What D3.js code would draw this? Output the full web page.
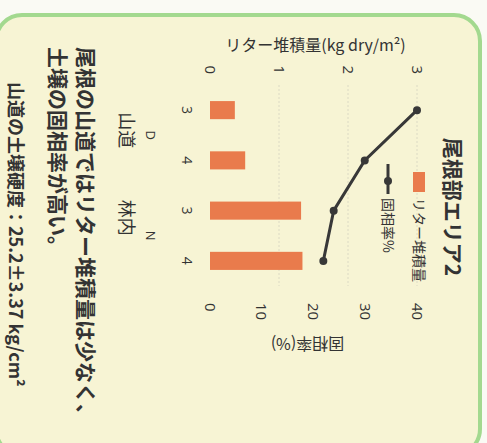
<!DOCTYPE html>
<html><head><meta charset="utf-8">
<script src="https://cdn.jsdelivr.net/npm/d3@7/dist/d3.min.js"></script>
<style>
html,body{margin:0;padding:0;background:#fafaf4;}
svg{display:block;}
text{font-family:"Noto Sans CJK JP","Noto Sans",sans-serif;fill:#333;}
</style></head>
<body>
<script>
// ---- data ----
const chartTitle = "尾根部エリア2";
const groups = ["山道", "林内"];
const groupCodes = ["D", "N"];
const categories = ["D-3", "D-4", "N-3", "N-4"];
const categoryLabels = ["3", "4", "3", "4"];
const litter = [0.36, 0.51, 1.32, 1.34];          // kg dry/m²
const solidRatio = [40.0, 29.9, 23.9, 21.9];       // %
const litterTicks = [0, 1, 2, 3];
const ratioTicks = [0, 10, 20, 30, 40];
const litterTitle = "リター堆積量(kg dry/m²)";
const ratioTitle = "固相率(%)";
const legendLabels = ["リター堆積量", "固相率%"];
const notes = ["尾根の山道ではリター堆積量は少なく、", "土壌の固相率が高い。"];
const hardness = "山道の土壌硬度：25.2±3.37 kg/cm²";

const W = 487, H = 443;
const svg = d3.select("body").append("svg").attr("width", W).attr("height", H);
svg.append("rect").attr("width", W).attr("height", H).attr("fill", "#fafaf4");

// the whole poster is photographed rotated 90° clockwise
const g = svg.append("g").attr("transform", `translate(${W},0) rotate(90)`);
// inside g: original width = 443 (H), original height = 487 (W)

// card
g.append("rect").attr("x", 15).attr("y", 7).attr("width", 440).attr("height", 484)
  .attr("rx", 26).attr("fill", "#f7f4d4").attr("stroke", "#a3d98f").attr("stroke-width", 4);

// scales
const x = d3.scaleBand().domain(categories).range([85, 286]).paddingInner(0.64).paddingOuter(0.32);
const yL = d3.scaleLinear().domain([0, 3]).range([277, 70]);
const yR = d3.scaleLinear().domain([0, 40]).range([277, 70]);

// gridlines
g.append("g").selectAll("line").data(litterTicks.slice(1)).join("line")
  .attr("x1", 85).attr("x2", 286).attr("y1", d => yL(d)).attr("y2", d => yL(d))
  .attr("stroke", "#dcdac4").attr("stroke-width", 1).attr("stroke-dasharray", "2,2");

// left axis (litter)
const axL = g.append("g").attr("transform", "translate(80,0)")
  .call(d3.axisLeft(yL).tickValues(litterTicks).tickFormat(d3.format("d")).tickSize(0).tickPadding(6));
axL.select(".domain").remove();
axL.selectAll("text").attr("font-size", 15).attr("fill", "#333")
  .style("font-family", "'Open Sans','Noto Sans',sans-serif");

// right axis (solid ratio)
const axR = g.append("g").attr("transform", "translate(297,0)")
  .call(d3.axisRight(yR).tickValues(ratioTicks).tickFormat(d3.format("d")).tickSize(0).tickPadding(6));
axR.select(".domain").remove();
axR.selectAll("text").attr("font-size", 15).attr("fill", "#333")
  .style("font-family", "'Open Sans','Noto Sans',sans-serif");

// axis titles
g.append("text").attr("transform", `translate(51,${(yL(0) + yL(3)) / 2 - 2}) rotate(-90)`)
  .attr("text-anchor", "middle").attr("font-size", 16).text(litterTitle);
g.append("text").attr("transform", `translate(338,${(yR(0) + yR(40)) / 2 + 6}) rotate(90)`)
  .attr("text-anchor", "middle").attr("font-size", 16).text(ratioTitle);

// bars
g.append("g").selectAll("rect").data(litter).join("rect")
  .attr("x", (d, i) => x(categories[i])).attr("width", x.bandwidth())
  .attr("y", d => yL(d)).attr("height", d => yL(0) - yL(d))
  .attr("fill", "#e97b4c");

// line
const pts = solidRatio.map((v, i) => [x(categories[i]) + x.bandwidth() / 2, yR(v)]);
g.append("path").attr("d", d3.line()(pts)).attr("fill", "none")
  .attr("stroke", "#383838").attr("stroke-width", 3);
g.append("g").selectAll("circle").data(pts).join("circle")
  .attr("cx", d => d[0]).attr("cy", d => d[1]).attr("r", 4).attr("fill", "#383838");

// category labels
g.append("g").selectAll("text").data(categoryLabels).join("text")
  .attr("x", (d, i) => x(categories[i]) + x.bandwidth() / 2).attr("y", 305)
  .attr("text-anchor", "middle").attr("font-size", 14)
  .style("font-family", "'Open Sans','Noto Sans',sans-serif").text(d => d);
const groupCenter = gi => (x(categories[gi * 2]) + x(categories[gi * 2 + 1]) + x.bandwidth()) / 2;
g.append("g").selectAll("text").data(groupCodes).join("text")
  .attr("x", (d, i) => groupCenter(i)).attr("y", 341)
  .attr("text-anchor", "middle").attr("font-size", 13)
  .style("font-family", "'Open Sans','Noto Sans',sans-serif").text(d => d);
g.append("g").selectAll("text").data(groups).join("text")
  .attr("x", (d, i) => groupCenter(i) - (i === 0 ? 5 : 18)).attr("y", 367)
  .attr("text-anchor", "middle").attr("font-size", 18).text(d => d);

// title
g.append("text").attr("x", 207).attr("y", 42).attr("text-anchor", "middle")
  .attr("font-size", 21).attr("font-weight", "bold").attr("fill", "#222").text(chartTitle);

// legend
g.append("rect").attr("x", 172).attr("y", 62).attr("width", 20).attr("height", 12).attr("fill", "#e97b4c");
g.append("text").attr("x", 198).attr("y", 73).attr("font-size", 14).text(legendLabels[0]);
g.append("line").attr("x1", 164).attr("x2", 194).attr("y1", 99).attr("y2", 99)
  .attr("stroke", "#383838").attr("stroke-width", 3);
g.append("circle").attr("cx", 181).attr("cy", 99).attr("r", 4).attr("fill", "#383838");
g.append("text").attr("x", 198).attr("y", 104).attr("font-size", 14).text(legendLabels[1]);

// notes
g.append("g").selectAll("text").data(notes).join("text")
  .attr("x", 47).attr("y", (d, i) => 409 + i * 28)
  .attr("font-size", 21).attr("font-weight", "bold").attr("fill", "#222").text(d => d);
g.append("text").attr("x", 82).attr("y", 478).attr("font-size", 18).attr("font-weight", "bold")
  .attr("fill", "#222").text(hardness);
</script>
</body></html>
